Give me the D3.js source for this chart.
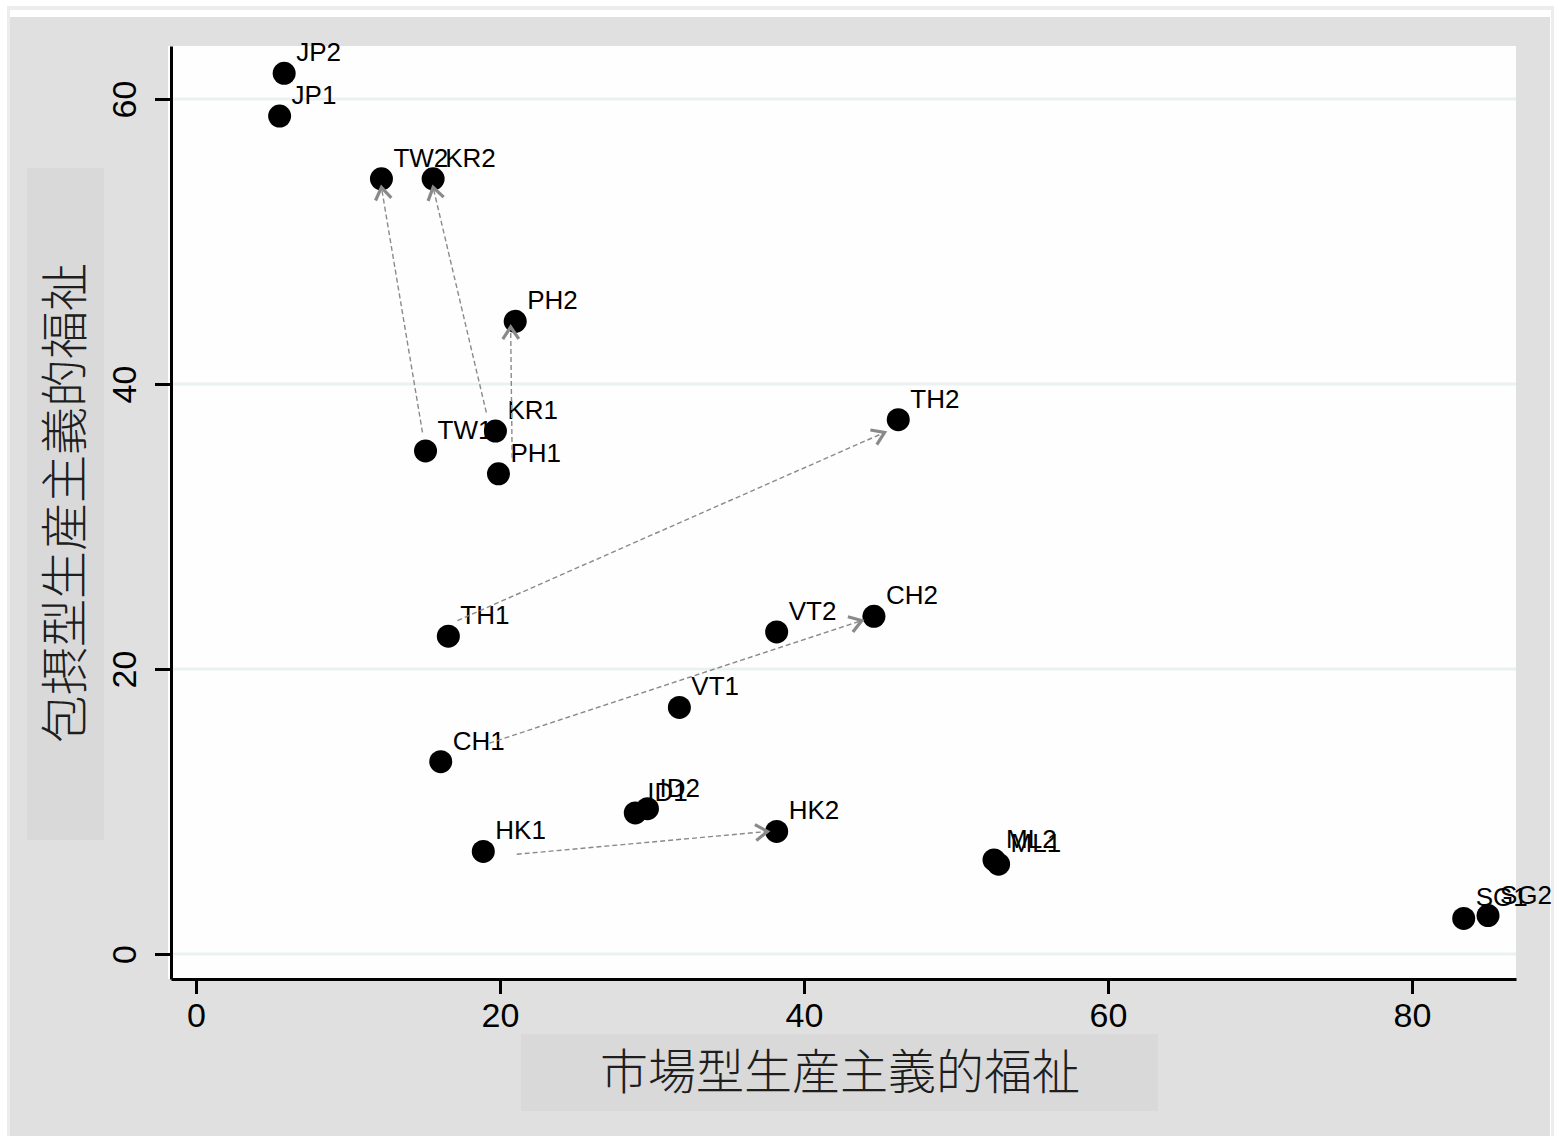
<!DOCTYPE html>
<html>
<head>
<meta charset="utf-8">
<script src="https://cdn.jsdelivr.net/npm/d3@7"></script>
<style>
  html, body { margin: 0; padding: 0; background: #ffffff; }
  svg { display: block; }
</style>
</head>
<body>
<script>
// Country-period labels and their welfare scores
const labels = ["JP1","JP2","TW1","TW2","KR1","KR2","PH1","PH2","TH1","TH2",
                "CH1","CH2","VT1","VT2","ID1","ID2","HK1","HK2","ML1","ML2","SG1","SG2"];
const marketScore = [5.5, 5.8, 15.1, 12.2, 19.7, 15.6, 19.9, 21.0, 16.6, 46.2,
                     16.1, 44.6, 31.8, 38.2, 28.9, 29.7, 18.9, 38.2, 52.8, 52.5, 83.4, 85.0];
const inclusiveScore = [58.8, 61.8, 35.3, 54.4, 36.7, 54.4, 33.7, 44.4, 22.3, 37.5,
                        13.5, 23.7, 17.3, 22.6, 9.9, 10.2, 7.2, 8.6, 6.3, 6.6, 2.5, 2.7];

// Movement arrows between periods (start and end in data units)
const arrowNames = ["TW","KR","PH","TH","CH","HK"];
const arrowX1 = [14.9, 19.1, 20.8, 17.2, 19.3, 21.1];
const arrowY1 = [36.6, 38.0, 34.8, 23.4, 14.8, 7.0];
const arrowX2 = [12.2, 15.6, 20.7, 45.3, 43.8, 37.6];
const arrowY2 = [53.8, 53.8, 44.0, 36.6, 23.4, 8.6];

const xTicks = [0, 20, 40, 60, 80];
const yTicks = [0, 20, 40, 60];
const xTitle = "市場型生産主義的福祉";
const yTitle = "包摂型生産主義的福祉";

const W = 1554, H = 1136;
const plot = { left: 171, right: 1516, top: 46, bottom: 979 };

const svg = d3.select("body").append("svg").attr("width", W).attr("height", H);

// Outer graph region
svg.append("rect").attr("x", 7).attr("y", 6).attr("width", W - 7).attr("height", H - 6).attr("fill", "#ededed");
svg.append("rect").attr("x", 10).attr("y", 10).attr("width", 1541).attr("height", H - 10).attr("fill", "#ffffff");
svg.append("rect").attr("x", 10).attr("y", 17).attr("width", 1540).attr("height", H - 17).attr("fill", "#e0e0e0");

// Plot region
svg.append("rect").attr("x", 168).attr("y", plot.top)
  .attr("width", plot.right - 168).attr("height", plot.bottom - plot.top).attr("fill", "#fefefe");

const x = d3.scaleLinear().domain([-1.645, 86.84]).range([plot.left, plot.right]);
const y = d3.scaleLinear().domain([-1.754, 63.72]).range([plot.bottom, plot.top]);

// Horizontal grid lines
svg.append("g").selectAll("line").data(yTicks).join("line")
  .attr("x1", plot.left).attr("x2", plot.right)
  .attr("y1", d => y(d)).attr("y2", d => y(d))
  .attr("stroke", "#e9f1f1").attr("stroke-width", 3);

// Axis title boxes
svg.append("rect").attr("x", 521).attr("y", 1034).attr("width", 637).attr("height", 77).attr("fill", "#d9d9d9");
svg.append("rect").attr("x", 27).attr("y", 168).attr("width", 77).attr("height", 672).attr("fill", "#d9d9d9");

// X axis
const gx = svg.append("g").attr("transform", `translate(0,${plot.bottom})`)
  .call(d3.axisBottom(x).tickValues(xTicks).tickSize(15).tickSizeOuter(0).tickPadding(9).tickFormat(d3.format("d")));
gx.select(".domain").attr("stroke", "#000").attr("stroke-width", 3);
gx.selectAll(".tick line").attr("stroke", "#000").attr("stroke-width", 3);
gx.selectAll(".tick text").attr("font-family", "'Liberation Sans', Arial, sans-serif")
  .attr("font-size", 34).attr("fill", "#000");

// Y axis with rotated tick labels
const gy = svg.append("g").attr("transform", `translate(${plot.left},0)`)
  .call(d3.axisLeft(y).tickValues(yTicks).tickSize(16).tickSizeOuter(0).tickFormat(d3.format("d")));
gy.select(".domain").attr("stroke", "#000").attr("stroke-width", 3);
gy.selectAll(".tick line").attr("stroke", "#000").attr("stroke-width", 3);
gy.selectAll(".tick text")
  .attr("font-family", "'Liberation Sans', Arial, sans-serif")
  .attr("font-size", 34).attr("fill", "#000")
  .attr("x", 0).attr("y", -47).attr("dy", "0.35em")
  .attr("text-anchor", "middle")
  .attr("transform", "rotate(-90)");

// Axis titles
svg.append("text").attr("x", 840).attr("y", 1072).attr("dy", "0.36em")
  .attr("text-anchor", "middle")
  .attr("font-family", "'Noto Sans CJK JP', 'Noto Sans CJK SC', sans-serif")
  .attr("font-weight", 300)
  .attr("font-size", 48).attr("fill", "#1e1e1e").text(xTitle);
svg.append("text").attr("transform", "translate(65,503) rotate(-90)").attr("dy", "0.36em")
  .attr("text-anchor", "middle")
  .attr("font-family", "'Noto Sans CJK JP', 'Noto Sans CJK SC', sans-serif")
  .attr("font-weight", 300)
  .attr("font-size", 48).attr("fill", "#1e1e1e").text(yTitle);

// Points
const pts = labels.map((l, i) => ({ label: l, mx: marketScore[i], iy: inclusiveScore[i] }));
svg.append("g").selectAll("circle").data(pts).join("circle")
  .attr("cx", d => x(d.mx)).attr("cy", d => y(d.iy)).attr("r", 11.5).attr("fill", "#000");

// Point labels
svg.append("g").selectAll("text").data(pts).join("text")
  .attr("x", d => x(d.mx) + 12).attr("y", d => y(d.iy) - 12)
  .attr("font-family", "'Liberation Sans', Arial, sans-serif")
  .attr("font-size", 26).attr("fill", "#000").text(d => d.label);

// Dashed movement arrows with open heads
const arrows = arrowNames.map((n, i) => ({
  name: n, x1: x(arrowX1[i]), y1: y(arrowY1[i]), x2: x(arrowX2[i]), y2: y(arrowY2[i])
}));
const ga = svg.append("g");
ga.selectAll("line").data(arrows).join("line")
  .attr("x1", d => d.x1).attr("y1", d => d.y1).attr("x2", d => d.x2).attr("y2", d => d.y2)
  .attr("stroke", "#8a8a8a").attr("stroke-width", 1.4).attr("stroke-dasharray", "5,3");
ga.selectAll("path").data(arrows).join("path")
  .attr("d", d => {
    const dx = d.x2 - d.x1, dy = d.y2 - d.y1, len = Math.hypot(dx, dy);
    const ux = dx / len, uy = dy / len, nx = -uy, ny = ux;
    const L = 12, Wd = 8;
    const ax = d.x2 - L * ux + Wd * nx, ay = d.y2 - L * uy + Wd * ny;
    const bx = d.x2 - L * ux - Wd * nx, by = d.y2 - L * uy - Wd * ny;
    return `M${ax},${ay}L${d.x2},${d.y2}L${bx},${by}`;
  })
  .attr("fill", "none").attr("stroke", "#8a8a8a").attr("stroke-width", 3.2)
  .attr("stroke-linejoin", "miter");
</script>
</body>
</html>
